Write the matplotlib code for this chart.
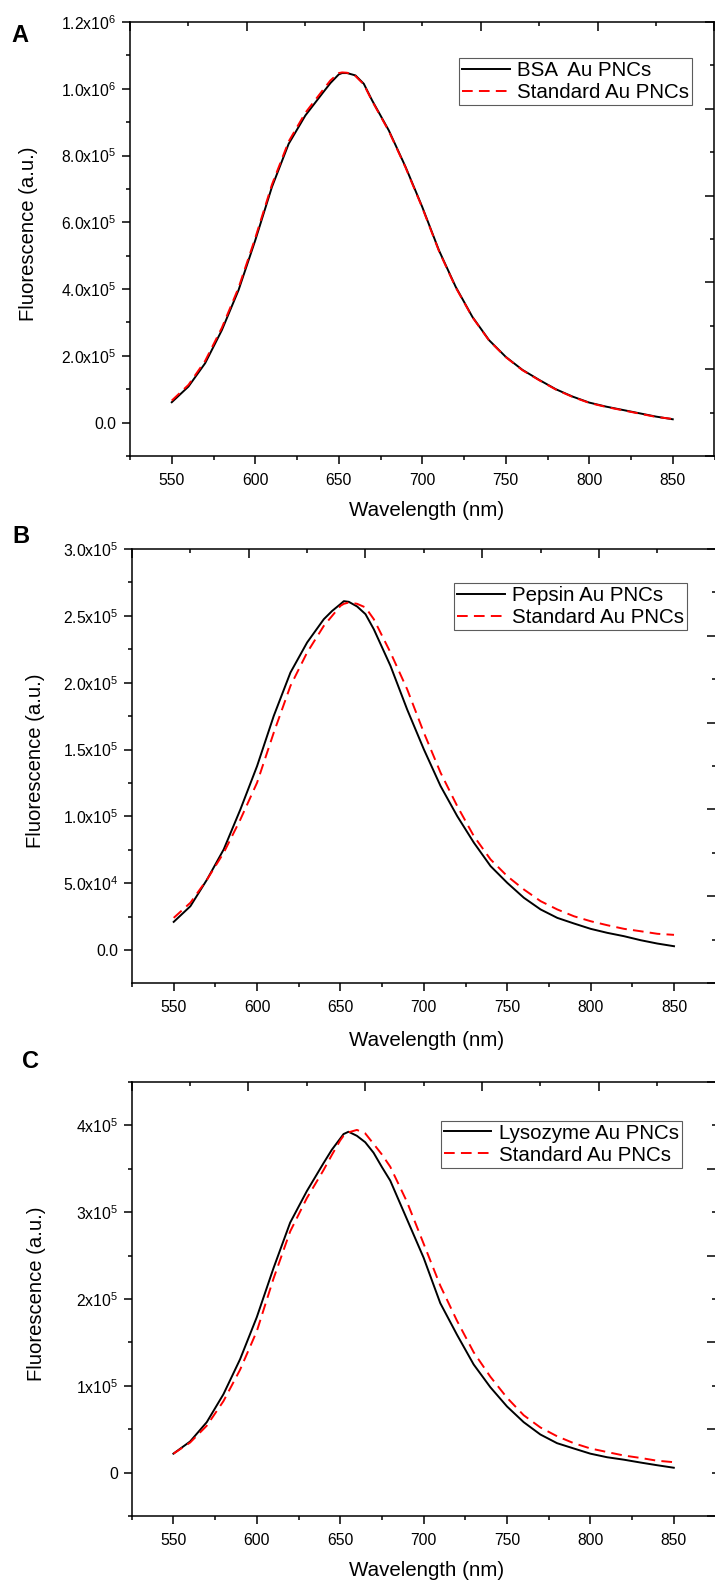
import numpy as np
import matplotlib
matplotlib.use("Agg")
import matplotlib.pyplot as plt
from matplotlib.ticker import MultipleLocator

plt.rcParams['font.family'] = ['Liberation Sans', 'DejaVu Sans']
plt.rcParams['mathtext.fontset'] = 'custom'
plt.rcParams['mathtext.rm'] = 'Liberation Sans'

# --- data (wavelength in nm) ---
wl = [550, 560, 570, 580, 590, 600, 610, 620, 630, 640, 645, 650, 652, 655, 660, 665,
      670, 675, 680, 690, 700, 710, 720, 730, 740, 750, 760, 770, 780, 790, 800, 810,
      820, 830, 840, 850]

# A: BSA vs standard (x1e6)
bsa = [0.061, 0.108, 0.178, 0.277, 0.397, 0.546, 0.706, 0.835, 0.920, 0.985, 1.017,
       1.043, 1.047, 1.047, 1.040, 1.015, 0.965, 0.920, 0.875, 0.766, 0.646, 0.516,
       0.407, 0.317, 0.247, 0.197, 0.158, 0.128, 0.100, 0.078, 0.060, 0.048, 0.038,
       0.028, 0.018, 0.010]
std_a = [0.066, 0.113, 0.185, 0.284, 0.404, 0.553, 0.713, 0.842, 0.928, 0.993, 1.025,
         1.047, 1.049, 1.048, 1.038, 1.013, 0.963, 0.918, 0.873, 0.764, 0.644, 0.514,
         0.405, 0.316, 0.246, 0.196, 0.157, 0.127, 0.099, 0.077, 0.059, 0.047, 0.037,
         0.027, 0.017, 0.011]

# B: pepsin vs standard (x1e5)
pepsin = [0.212, 0.329, 0.529, 0.754, 1.053, 1.377, 1.752, 2.076, 2.301, 2.475, 2.537,
          2.588, 2.610, 2.605, 2.570, 2.513, 2.400, 2.263, 2.126, 1.800, 1.502, 1.228,
          1.003, 0.804, 0.629, 0.504, 0.392, 0.305, 0.242, 0.200, 0.160, 0.130, 0.105,
          0.075, 0.050, 0.030]
std_b = [0.242, 0.355, 0.529, 0.729, 0.978, 1.253, 1.627, 1.976, 2.226, 2.425, 2.500,
         2.575, 2.590, 2.600, 2.590, 2.563, 2.475, 2.350, 2.226, 1.951, 1.627, 1.328,
         1.078, 0.853, 0.679, 0.554, 0.454, 0.367, 0.305, 0.254, 0.217, 0.187, 0.160,
         0.142, 0.123, 0.115]

# C: lysozyme vs standard (x1e5)
lyso = [0.218, 0.358, 0.581, 0.903, 1.307, 1.791, 2.355, 2.880, 3.243, 3.565, 3.720,
        3.848, 3.900, 3.927, 3.880, 3.806, 3.685, 3.520, 3.364, 2.920, 2.476, 1.952,
        1.589, 1.246, 0.984, 0.762, 0.581, 0.439, 0.339, 0.278, 0.218, 0.177, 0.149,
        0.116, 0.085, 0.056]
std_c = [0.218, 0.346, 0.540, 0.823, 1.186, 1.629, 2.234, 2.778, 3.162, 3.485, 3.660,
         3.827, 3.880, 3.920, 3.948, 3.908, 3.787, 3.665, 3.524, 3.121, 2.638, 2.154,
         1.750, 1.387, 1.105, 0.863, 0.661, 0.520, 0.419, 0.339, 0.278, 0.237, 0.197,
         0.169, 0.137, 0.120]

scale_a, scale_b, scale_c = 1e6, 1e5, 1e5

ticks_a = [0, 2e5, 4e5, 6e5, 8e5, 1e6, 1.2e6]
labels_a = ['0.0', '2.0x10^{5}', '4.0x10^{5}', '6.0x10^{5}', '8.0x10^{5}',
            '1.0x10^{6}', '1.2x10^{6}']
ticks_b = [0, 5e4, 1e5, 1.5e5, 2e5, 2.5e5, 3e5]
labels_b = ['0.0', '5.0x10^{4}', '1.0x10^{5}', '1.5x10^{5}', '2.0x10^{5}',
            '2.5x10^{5}', '3.0x10^{5}']
ticks_c = [0, 1e5, 2e5, 3e5, 4e5]
labels_c = ['0', '1x10^{5}', '2x10^{5}', '3x10^{5}', '4x10^{5}']

W, H = 715, 1589
fig = plt.figure(figsize=(W / 100, H / 100), dpi=100)

def px_box(l, t, r, b):
    return [l / W, 1 - b / H, (r - l) / W, (b - t) / H]

panels = [
    dict(box=px_box(130, 22, 714.5, 456), y=(bsa, std_a, scale_a), name='BSA  Au PNCs',
         ylim=(-1e5, 1.2e6), minor=1e5, ticks=ticks_a, labels=labels_a,
         leg=(692, 58), letter='A', lpos=(11, 42), ylab=(28, 234), xlab_y=511),
    dict(box=px_box(132, 549, 715.7, 983), y=(pepsin, std_b, scale_b), name='Pepsin Au PNCs',
         ylim=(-2.45e4, 3e5), minor=2.5e4, ticks=ticks_b, labels=labels_b,
         leg=(687, 583), letter='B', lpos=(12, 543), ylab=(36, 761), xlab_y=1040),
    dict(box=px_box(131.7, 1082, 715.5, 1516), y=(lyso, std_c, scale_c), name='Lysozyme Au PNCs',
         ylim=(-5e4, 4.5e5), minor=5e4, ticks=ticks_c, labels=labels_c,
         leg=(681.7, 1120.5), letter='C', lpos=(22, 1068), ylab=(37, 1294), xlab_y=1571),
]

for p in panels:
    ax = fig.add_axes(p['box'])
    sample, std, sc = p['y']
    ax.plot(wl, np.array(sample) * sc, color='black', lw=1.4, label=p['name'])
    ax.plot(wl, np.array(std) * sc, color='red', lw=1.4, ls=(0, (5.5, 3.2)),
            label='Standard Au PNCs')
    ax.set_xlim(525, 875)
    ax.set_ylim(*p['ylim'])
    ax.set_xticks([550, 600, 650, 700, 750, 800, 850])
    ax.xaxis.set_minor_locator(MultipleLocator(25))
    ax.set_yticks(p['ticks'], ['$\\mathregular{%s}$' % s if '^' in s else s for s in p['labels']])
    ax.yaxis.set_minor_locator(MultipleLocator(p['minor']))
    ax.tick_params(which='both', direction='out', top=False, right=False,
                   labelsize=11.3, width=1.1, colors='black')
    ax.tick_params(axis='x', pad=6.5)
    ax.tick_params(axis='y', pad=4)
    ax.tick_params(which='major', length=5.8)
    ax.tick_params(which='minor', length=3)
    for s in ax.spines.values():
        s.set_linewidth(1.1)
    ax.patch.set_alpha(0)

    # unlabelled top/right tick marks of the frame
    ov = fig.add_axes(p['box'], frameon=False)
    ov.set_xlim(0, 10)
    ov.set_ylim(0, 10)
    ov.xaxis.set_major_locator(MultipleLocator(2))
    ov.xaxis.set_minor_locator(MultipleLocator(1))
    ov.yaxis.set_major_locator(MultipleLocator(2))
    ov.yaxis.set_minor_locator(MultipleLocator(1))
    ov.tick_params(which='both', direction='in', top=True, right=True, bottom=False,
                   left=False, labeltop=False, labelright=False, labelbottom=False,
                   labelleft=False, width=1.1)
    ov.tick_params(which='major', length=6.5)
    ov.tick_params(which='minor', length=3)

    lx, ly = p['leg']
    leg = ax.legend(loc='upper right', bbox_to_anchor=(lx / W, 1 - ly / H),
                    bbox_transform=fig.transFigure, fontsize=14.8, frameon=True,
                    fancybox=False, borderaxespad=0, borderpad=0.15, labelspacing=0.15,
                    handlelength=2.3, handletextpad=0.35)
    leg.get_frame().set_edgecolor('#333333')
    leg.get_frame().set_linewidth(0.8)

    fig.text(p['lpos'][0] / W, 1 - p['lpos'][1] / H, p['letter'], fontsize=17,
             fontweight='bold', ha='left', va='baseline')
    fig.text(p['ylab'][0] / W, 1 - p['ylab'][1] / H, 'Fluorescence (a.u.)', rotation=90,
             fontsize=14.6, ha='center', va='center')
    fig.text(427 / W, 1 - p['xlab_y'] / H, 'Wavelength (nm)',
             fontsize=14.8, ha='center', va='center')

fig.savefig('out.png', dpi=100, facecolor='white')
